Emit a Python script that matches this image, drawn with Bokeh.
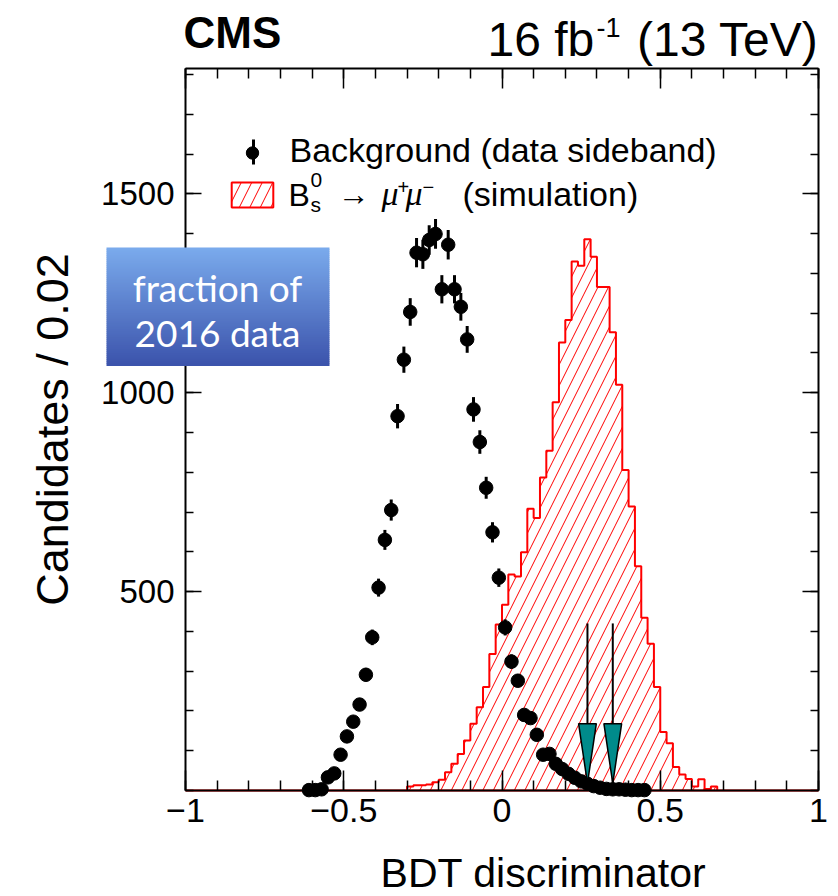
import numpy as np
from bokeh.plotting import figure
from bokeh.models import (Range1d, LinearAxis, SingleIntervalTicker, FixedTicker, CustomJSTickFormatter,
                          Label, BoxAnnotation, Legend, LegendItem, ColumnDataSource)
from bokeh.embed import file_html
from bokeh.resources import INLINE

# ---------------- data ----------------
bkg_x = [-0.61, -0.59, -0.57, -0.55, -0.53, -0.51, -0.49, -0.47, -0.45, -0.43, -0.41,
         -0.39, -0.37, -0.35, -0.33, -0.31, -0.29, -0.27, -0.25, -0.23, -0.21, -0.19,
         -0.17, -0.15, -0.13, -0.11, -0.09, -0.07, -0.05, -0.03, -0.01, 0.01, 0.03,
         0.05, 0.07, 0.09, 0.11, 0.13, 0.15, 0.17, 0.19, 0.21, 0.23, 0.25, 0.27, 0.29,
         0.31, 0.33, 0.35, 0.37, 0.39, 0.41, 0.43, 0.45]
bkg_n = [1, 1, 3, 33, 43, 90, 136, 173, 216, 291, 385,
         510, 630, 705, 941, 1083, 1203, 1352, 1348, 1384, 1399, 1260,
         1372, 1260, 1216, 1134, 958, 876, 761, 649, 535, 410, 324,
         276, 190, 182, 140, 90, 92, 67, 54, 42, 32, 23, 17, 11,
         7, 4, 3, 3, 2, 1, 1, 1]

sig_bin_lo = [-0.30, -0.28, -0.26, -0.24, -0.22, -0.20, -0.18, -0.16, -0.14, -0.12,
              -0.10, -0.08, -0.06, -0.04, -0.02, 0.00, 0.02, 0.04, 0.06, 0.08,
              0.10, 0.12, 0.14, 0.16, 0.18, 0.20, 0.22, 0.24, 0.26, 0.28,
              0.30, 0.32, 0.34, 0.36, 0.38, 0.40, 0.42, 0.44, 0.46, 0.48,
              0.50, 0.52, 0.54, 0.56, 0.58, 0.60, 0.62, 0.64, 0.66]
sig_n = [10, 13, 13, 15, 21, 27, 46, 67, 92, 126,
         168, 209, 260, 343, 417, 467, 543, 538, 599, 708,
         685, 787, 854, 976, 1126, 1183, 1330, 1319, 1386, 1342,
         1266, 1266, 1152, 1020, 806, 714, 564, 434, 369, 260,
         147, 119, 59, 40, 29, 10, 28, 4, 10]

bin_width = 0.02
x_min, x_max = -1.0, 1.0
y_min, y_max = 0, 1815

cut_values = [0.27, 0.35]
arrow_top = 420
arrow_head_top = 168
arrow_tip = 18
arrow_head_halfwidth = 0.028

x_tick_interval = 0.5
y_major_ticks = [500, 1000, 1500]
y_minor_step = 100

# ---------------- layout (pixels) ----------------
W, H = 838, 896
FRAME_L, FRAME_R, FRAME_T, FRAME_B = 185, 818, 68, 790
sx_scale = (FRAME_R - FRAME_L) / (x_max - x_min)
sy_scale = (FRAME_B - FRAME_T) / (y_max - y_min)
x_lo = x_min - FRAME_L / sx_scale
x_hi = x_max + (W - FRAME_R) / sx_scale
y_lo = y_min - (H - FRAME_B) / sy_scale
y_hi = y_max + FRAME_T / sy_scale

FONT = "Liberation Sans"

p = figure(width=W, height=H, x_range=Range1d(x_lo, x_hi), y_range=Range1d(y_lo, y_hi),
           output_backend="svg", toolbar_location=None,
           min_border=0, min_border_left=0, min_border_right=0,
           min_border_top=0, min_border_bottom=0,
           background_fill_color="white", border_fill_color="white")
p.title.visible = False
p.grid.visible = False
p.outline_line_color = None

# ---------------- signal histogram ----------------
n_bins = int(round((x_max - x_min) / bin_width))
edges = np.round(np.linspace(x_min, x_max, n_bins + 1), 2)
vals = np.zeros(n_bins)
for lo, n in zip(sig_bin_lo, sig_n):
    vals[int(round((lo - x_min) / bin_width))] = n
hx = np.repeat(edges, 2)
hy = np.concatenate([[0], np.repeat(vals, 2), [0]])
sig_r = p.patch(x=hx, y=hy, fill_color=None, line_color="#ff0000", line_width=2,
                hatch_pattern="/", hatch_color="#ff0000", hatch_scale=21, hatch_weight=1)

# ---------------- background points ----------------
bx = np.array(bkg_x)
bn = np.array(bkg_n, dtype=float)
err = np.sqrt(bn)
src = ColumnDataSource(dict(x=bx, y=bn, lo=bn - err, hi=bn + err))
p.segment(x0="x", y0="lo", x1="x", y1="hi", source=src, line_color="black", line_width=3)
pts_r = p.scatter(x="x", y="y", source=src, size=13.5, fill_color="black", line_color="black")

# ---------------- cut arrows ----------------
cuts = np.array(cut_values)
p.segment(x0=cuts, y0=[arrow_top] * len(cuts), x1=cuts, y1=[arrow_tip] * len(cuts),
          line_color="black", line_width=2)
p.patches(xs=[[c - arrow_head_halfwidth, c + arrow_head_halfwidth, c] for c in cuts],
          ys=[[arrow_head_top, arrow_head_top, arrow_tip] for _ in cuts],
          fill_color="#008b8b", line_color="black", line_width=1.5)

# ---------------- axes (frame drawn by 4 axes) ----------------
xfmt = CustomJSTickFormatter(code="return (tick < 0 ? '\u2212' : '') + String(Math.abs(tick));")
y_minor = list(np.arange(y_min, y_max + 1, y_minor_step))

def style_axis(ax, tick_in, minor_in):
    ax.major_tick_in = tick_in
    ax.major_tick_out = 0
    ax.minor_tick_in = minor_in
    ax.minor_tick_out = 0
    ax.axis_line_width = 2
    ax.axis_line_color = "black"
    ax.major_tick_line_width = 1.5
    ax.minor_tick_line_width = 1.5
    ax.major_tick_line_color = "black"
    ax.minor_tick_line_color = "black"

xa = p.xaxis[0]
xa.ticker = SingleIntervalTicker(interval=x_tick_interval, num_minor_ticks=5)
xa.formatter = xfmt
xa.fixed_location = y_min
xa.bounds = (x_min, x_max)
xa.major_label_text_font = FONT
xa.major_label_text_font_size = "34px"
xa.major_label_text_color = "black"
xa.major_label_standoff = 8
style_axis(xa, 20, 10)

ya = p.yaxis[0]
ya.ticker = FixedTicker(ticks=y_major_ticks, minor_ticks=y_minor)
ya.fixed_location = x_min
ya.bounds = (y_min, y_max)
ya.axis_label = "Candidates / 0.02"
ya.axis_label_text_font = FONT
ya.axis_label_text_font_style = "normal"
ya.axis_label_text_font_size = "45px"
ya.axis_label_text_color = "black"
ya.axis_label_standoff = 20
ya.major_label_text_font = FONT
ya.major_label_text_font_size = "33px"
ya.major_label_text_color = "black"
ya.major_label_standoff = 11
style_axis(ya, 16, 8)

top_ax = LinearAxis(ticker=SingleIntervalTicker(interval=x_tick_interval, num_minor_ticks=5),
                    fixed_location=y_max, bounds=(x_min, x_max), major_label_text_color=None)
style_axis(top_ax, 20, 10)
right_ax = LinearAxis(ticker=FixedTicker(ticks=y_major_ticks, minor_ticks=y_minor),
                      fixed_location=x_max, bounds=(y_min, y_max), major_label_text_color=None)
style_axis(right_ax, 16, 8)
p.add_layout(top_ax, "above")
p.add_layout(right_ax, "right")

# ---------------- texts ----------------
def lab(text, px, base, size, font=FONT, corr=0.34, **kw):
    opts = dict(x_units="screen", y_units="screen", text_font=font,
                text_font_size="%dpx" % size, text_color="black", text_baseline="alphabetic")
    opts.update(kw)
    p.add_layout(Label(x=px, y=H - base + corr * size, text=text, **opts))

# x-axis title (ROOT style, placed toward the right)
lab("BDT discriminator", 543, 886, 41, text_align="center")

# header
lab("CMS", 183, 47, 44, text_font_style="bold")
lab("16 fb", 487, 55, 48)
lab("-1", 596, 36, 27)
lab("(13 TeV)", 818, 55, 48, text_align="right")

# ---------------- legend ----------------
legend = Legend(items=[LegendItem(label=" ", renderers=[pts_r]),
                       LegendItem(label=" ", renderers=[sig_r])],
                location=(226, H - 209.5), glyph_width=52, glyph_height=31, label_standoff=11,
                spacing=11, padding=0, margin=0, border_line_color=None,
                background_fill_alpha=0, label_text_font_size="1px", label_height=1,
                label_text_color=None)
p.add_layout(legend)
p.add_layout(BoxAnnotation(left=251.5, right=254.5, bottom=H - 164, top=H - 139,
                           left_units="screen", right_units="screen",
                           bottom_units="screen", top_units="screen",
                           fill_color="black", fill_alpha=1, line_color=None))

lab("Background (data sideband)", 289, 161, 34)
lab("B", 288, 205, 32)
lab("0", 310, 187, 21)
lab("s", 310, 211, 21)
lab("\u2192", 337, 204, 32)
lab("\u03bc", 381, 205, 34, font="Liberation Serif", text_font_style="italic")
lab("+", 397, 193, 20)
lab("\u03bc", 405, 205, 34, font="Liberation Serif", text_font_style="italic")
lab("\u2212", 422, 193, 20)
lab("(simulation)", 462, 205, 34)

# ---------------- "fraction of 2016 data" gradient box ----------------
box_l, box_r, box_top_px, box_bot_px = 106, 329, 247, 365
top_col = np.array([122, 170, 236])
bot_col = np.array([60, 84, 172])
n_strips = 59
hh = (box_bot_px - box_top_px) / n_strips
for i in range(n_strips):
    f = i / (n_strips - 1)
    c = (top_col + (bot_col - top_col) * f).round().astype(int)
    p.add_layout(BoxAnnotation(left=box_l, right=box_r,
                               top=H - (box_top_px + i * hh),
                               bottom=H - (box_top_px + (i + 1) * hh) - 0.6,
                               left_units="screen", right_units="screen",
                               bottom_units="screen", top_units="screen",
                               fill_color="#%02x%02x%02x" % tuple(c), fill_alpha=1, line_color=None))
lab("fraction of", 217, 300, 37, font="Lato", text_color="white", text_align="center")
lab("2016 data", 217, 345, 37, font="Lato", text_color="white", text_align="center")

open("out.html", "w").write(file_html(p, INLINE))
